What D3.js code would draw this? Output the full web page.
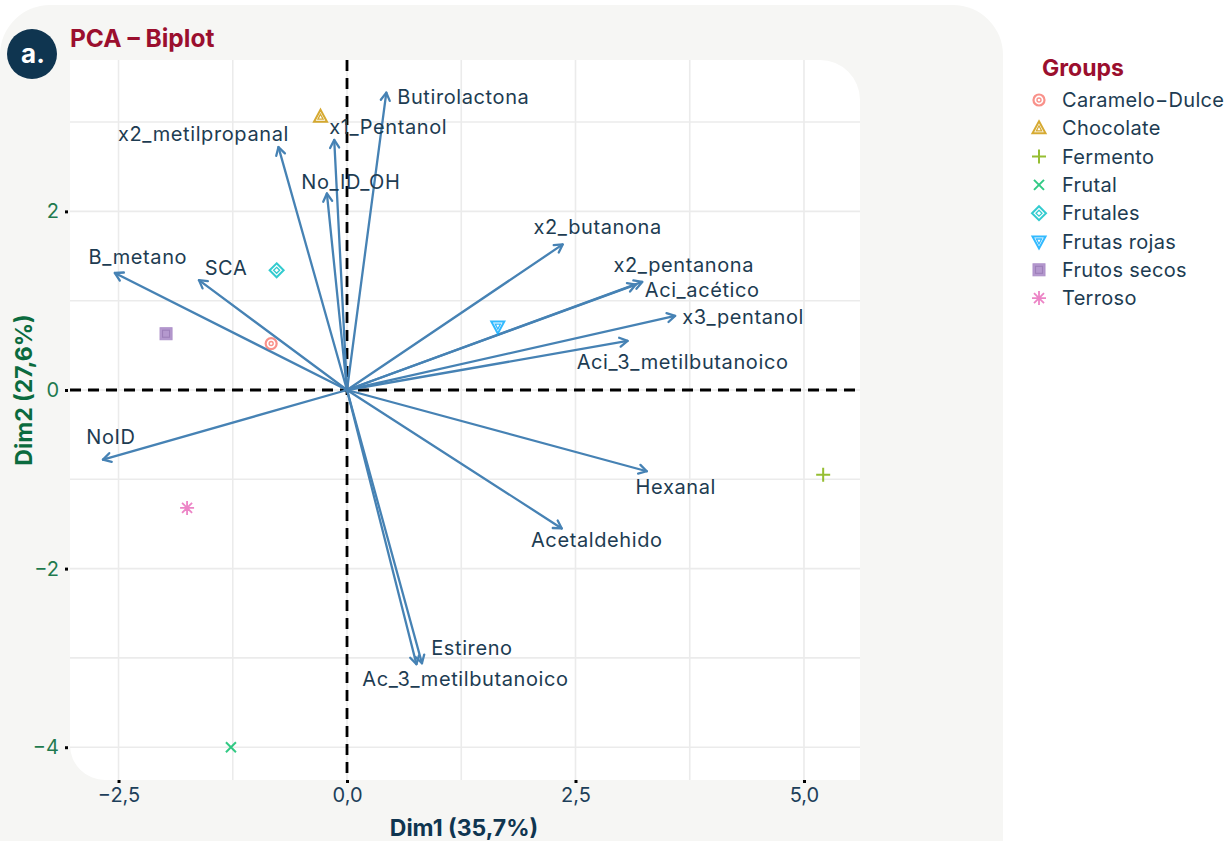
<!DOCTYPE html>
<html><head><meta charset="utf-8">
<script src="https://cdn.jsdelivr.net/npm/d3@7"></script>
<style>
html,body{margin:0;padding:0;background:#fff;}
svg{display:block;}
text{font-family:Inter,"Noto Sans",sans-serif;}
</style></head>
<body><svg id="chart" width="1232" height="841"></svg>
<script>
// ---- data ----
const variables = ["Butirolactona","x1_Pentanol","x2_metilpropanal","No_ID_OH","B_metano","SCA",
  "x2_butanona","x2_pentanona","Aci_acético","x3_pentanol","Aci_3_metilbutanoico","NoID",
  "Hexanal","Acetaldehido","Estireno","Ac_3_metilbutanoico"];
const varDim1 = [0.43,-0.14,-0.75,-0.22,-2.54,-1.62,2.36,3.16,3.23,3.59,3.07,-2.67,3.28,2.35,0.82,0.76];
const varDim2 = [3.33,2.80,2.72,2.20,1.31,1.23,1.63,1.18,1.21,0.83,0.55,-0.78,-0.91,-1.55,-3.06,-3.07];

const groups = ["Caramelo−Dulce","Chocolate","Fermento","Frutal","Frutales","Frutas rojas","Frutos secos","Terroso"];
const grpDim1 = [-0.83,-0.29,5.21,-1.27,-0.77,1.65,-1.98,-1.75];
const grpDim2 = [0.52,3.06,-0.95,-4.00,1.34,0.71,0.63,-1.32];

const xTicks = [-2.5,0,2.5,5];
const xTickLabels = ["−2,5","0,0","2,5","5,0"];
const yTicks = [-4,-2,0,2];
const yTickLabels = ["−4","−2","0","2"];
const xMinor = [-1.25,1.25,3.75];
const yMinor = [-3,-1,1,3];

// ---- layout / style ----
const colors = ["#F8766D","#CD9600","#7CAE00","#00BE67","#00BFC4","#00A9FF","#C77CFF","#E866B8"];
const shapes = ["circle","triangle","plus","cross","diamond","triangleDown","squareCross","asterisk"];
const labelOffsets = {
  "Butirolactona":[77,4],"x1_Pentanol":[54,-13],"x2_metilpropanal":[-75,-13],"No_ID_OH":[24,-12],
  "B_metano":[23,-16],"SCA":[27,-12],"x2_butanona":[35,-17],"x2_pentanona":[48,-20],
  "Aci_acético":[60,8],"x3_pentanol":[68,1],"Aci_3_metilbutanoico":[55,21],"NoID":[8,-23],
  "Hexanal":[29,16],"Acetaldehido":[35,12],"Estireno":[50,-15],"Ac_3_metilbutanoico":[49,15]
};

const svg = d3.select("#chart");
const P = {l:70, r:860, t:60, b:780};
const x = d3.scaleLinear().domain([-3.031, 5.613]).range([P.l, P.r]);
const y = d3.scaleLinear().domain([-4.367, 3.695]).range([P.b, P.t]);

// card background
const cardR = 50;
svg.append("path").attr("fill","#f6f6f4")
  .attr("d",`M0,${5+cardR} A${cardR},${cardR} 0 0 1 ${cardR},5 L${1003-cardR},5 A${cardR},${cardR} 0 0 1 1003,${5+cardR} L1003,900 L0,900 Z`);

// panel
const rTR = 40, rBL = 35;
svg.append("path").attr("fill","#ffffff")
  .attr("d",`M${P.l},${P.t} L${P.r-rTR},${P.t} A${rTR},${rTR} 0 0 1 ${P.r},${P.t+rTR} L${P.r},${P.b} L${P.l+rBL},${P.b} A${rBL},${rBL} 0 0 1 ${P.l},${P.b-rBL} Z`);

// grid
const grid = svg.append("g").attr("stroke","#ebebeb");
grid.selectAll(".vx").data(xTicks.concat(xMinor)).join("line")
  .attr("x1",d=>x(d)).attr("x2",d=>x(d)).attr("y1",P.t).attr("y2",P.b).attr("stroke-width",1.6);
grid.selectAll(".hy").data(yTicks.concat(yMinor)).join("line")
  .attr("y1",d=>y(d)).attr("y2",d=>y(d)).attr("x1",P.l).attr("x2",P.r).attr("stroke-width",1.6);

// axes (ticks)
const xAxis = d3.axisBottom(x).tickValues(xTicks).tickFormat((d,i)=>xTickLabels[i]).tickSize(3).tickPadding(5);
const gx = svg.append("g").attr("transform",`translate(0,${P.b})`).call(xAxis);
gx.select(".domain").remove();
gx.selectAll(".tick line").attr("stroke","#000").attr("stroke-width",3);
gx.selectAll(".tick text").attr("fill","#1d3f5a").style("font-size","20px").style("font-family","Inter,sans-serif");

const yAxis = d3.axisLeft(y).tickValues(yTicks).tickFormat((d,i)=>yTickLabels[i]).tickSize(3).tickPadding(6);
const gy = svg.append("g").attr("transform",`translate(${P.l-2},0)`).call(yAxis);
gy.select(".domain").remove();
gy.selectAll(".tick line").attr("stroke","#000").attr("stroke-width",3);
gy.selectAll(".tick text").attr("fill","#1f7a4f").style("font-size","20px").style("font-family","Inter,sans-serif");

// dashed zero lines
svg.append("line").attr("x1",x(0)).attr("x2",x(0)).attr("y1",P.t).attr("y2",P.b)
  .attr("stroke","#000").attr("stroke-width",2.8).attr("stroke-dasharray","11 7");
svg.append("line").attr("y1",y(0)).attr("y2",y(0)).attr("x1",P.l).attr("x2",P.r)
  .attr("stroke","#000").attr("stroke-width",2.8).attr("stroke-dasharray","11 7");

// arrows
const arrowColor = "#4682B4";
const vars = variables.map((v,i)=>({name:v, d1:varDim1[i], d2:varDim2[i]}));
const ag = svg.append("g").attr("fill","none").attr("stroke",arrowColor).attr("stroke-width",2.3).attr("stroke-linecap","round").attr("stroke-linejoin","round");
vars.forEach(v=>{
  const x0=x(0), y0=y(0), x1=x(v.d1), y1=y(v.d2);
  ag.append("line").attr("x1",x0).attr("y1",y0).attr("x2",x1).attr("y2",y1);
  const ang = Math.atan2(y1-y0, x1-x0), L=9, a=Math.PI/6;
  const p1=[x1-L*Math.cos(ang-a), y1-L*Math.sin(ang-a)];
  const p2=[x1-L*Math.cos(ang+a), y1-L*Math.sin(ang+a)];
  ag.append("path").attr("d",`M${p1[0]},${p1[1]} L${x1},${y1} L${p2[0]},${p2[1]}`);
});

// arrow labels
svg.append("g").selectAll("text").data(vars).join("text")
  .attr("x",d=>x(d.d1)+labelOffsets[d.name][0])
  .attr("y",d=>y(d.d2)+labelOffsets[d.name][1])
  .attr("text-anchor","middle").attr("dominant-baseline","central")
  .attr("fill","#1d3c52").style("font-size","20px").style("letter-spacing","0.6px")
  .text(d=>d.name);

// symbols
function drawShape(g, shape, col){
  const sw=2;
  if(shape==="circle"){
    g.append("circle").attr("r",5.5).attr("fill","none").attr("stroke",col).attr("stroke-width",2.2);
    g.append("circle").attr("r",2).attr("fill","none").attr("stroke",col).attr("stroke-width",1.4);
  } else if(shape==="triangle"){
    g.append("path").attr("d","M0,-7 L6.5,5 L-6.5,5 Z").attr("fill","none").attr("stroke",col).attr("stroke-width",sw);
    g.append("path").attr("d","M0,-2.5 L2.6,2.5 L-2.6,2.5 Z").attr("fill","none").attr("stroke",col).attr("stroke-width",1.3);
  } else if(shape==="triangleDown"){
    g.append("path").attr("d","M0,7 L6.5,-5 L-6.5,-5 Z").attr("fill","none").attr("stroke",col).attr("stroke-width",sw);
    g.append("path").attr("d","M0,2.5 L2.6,-2.5 L-2.6,-2.5 Z").attr("fill","none").attr("stroke",col).attr("stroke-width",1.3);
  } else if(shape==="diamond"){
    g.append("path").attr("d","M0,-7 L7,0 L0,7 L-7,0 Z").attr("fill","none").attr("stroke",col).attr("stroke-width",sw);
    g.append("path").attr("d","M0,-3 L3,0 L0,3 L-3,0 Z").attr("fill","none").attr("stroke",col).attr("stroke-width",1.3);
  } else if(shape==="plus"){
    g.append("path").attr("d","M-7,0 L7,0 M0,-7 L0,7").attr("stroke",col).attr("stroke-width",sw);
  } else if(shape==="cross"){
    g.append("path").attr("d","M-5,-5 L5,5 M-5,5 L5,-5").attr("stroke",col).attr("stroke-width",sw);
  } else if(shape==="squareCross"){
    g.append("rect").attr("x",-6).attr("y",-6).attr("width",12).attr("height",12).attr("fill","#a27fc2").attr("stroke","#9a76bd").attr("stroke-width",1);
    g.append("rect").attr("x",-3.5).attr("y",-3.5).attr("width",7).attr("height",7).attr("fill","none").attr("stroke","#8560a8").attr("stroke-width",1.1);
  } else if(shape==="asterisk"){
    g.append("path").attr("d","M-7,0 L7,0 M0,-7 L0,7 M-5,-5 L5,5 M-5,5 L5,-5").attr("stroke",col).attr("stroke-width",1.8);
  }
}
const pts = groups.map((gname,i)=>({name:gname,d1:grpDim1[i],d2:grpDim2[i],col:colors[i],shape:shapes[i]}));
pts.forEach(p=>{
  const g = svg.append("g").attr("transform",`translate(${x(p.d1)},${y(p.d2)})`).attr("opacity",0.8);
  drawShape(g,p.shape,p.col);
});

// axis titles
svg.append("text").attr("x",x(0)+117).attr("y",828).attr("text-anchor","middle").attr("dominant-baseline","central")
  .attr("fill","#0f3550").style("font-size","23px").style("font-weight","700").text("Dim1 (35,7%)");
svg.append("text").attr("transform",`translate(24,${y(0)}) rotate(-90)`).attr("text-anchor","middle").attr("dominant-baseline","central")
  .attr("fill","#0b6b3e").style("font-size","23px").style("font-weight","700").text("Dim2 (27,6%)");

// title & badge
svg.append("circle").attr("cx",32).attr("cy",54).attr("r",25).attr("fill","#0f3550");
svg.append("text").attr("x",33).attr("y",53).attr("text-anchor","middle").attr("dominant-baseline","central")
  .attr("fill","#fff").style("font-size","26px").style("font-weight","700").text("a.");
svg.append("text").attr("x",70).attr("y",38).attr("dominant-baseline","central")
  .attr("fill","#9b0f2e").style("font-size","24.5px").style("font-weight","700").text("PCA – Biplot");

// legend
const lg = svg.append("g");
lg.append("text").attr("x",1042).attr("y",68).attr("dominant-baseline","central")
  .attr("fill","#9b0f2e").style("font-size","23px").style("font-weight","700").text("Groups");
const lItems = lg.selectAll(".li").data(pts).join("g").attr("transform",(d,i)=>`translate(1039,${100+i*28.3})`);
lItems.each(function(d){ const g=d3.select(this).append("g").attr("opacity",0.8); drawShape(g,d.shape,d.col); });
lItems.append("text").attr("x",23).attr("dominant-baseline","central").attr("fill","#1d3c52").style("font-size","20px").style("letter-spacing","0.3px").text(d=>d.name);
</script></body></html>
